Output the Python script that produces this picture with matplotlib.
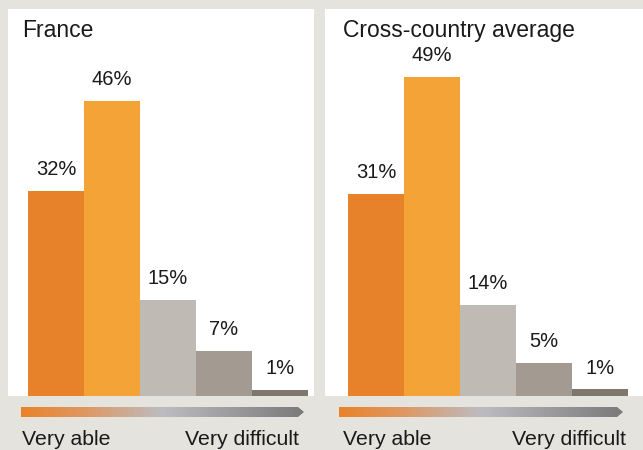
import numpy as np
import matplotlib
matplotlib.use("Agg")
import matplotlib.pyplot as plt
from matplotlib.colors import LinearSegmentedColormap
from matplotlib.path import Path
from matplotlib.patches import PathPatch

# Shares of respondents by ability level
levels = ["Very able", "Able", "Somewhat", "Difficult", "Very difficult"]
france = [32, 46, 15, 7, 1]
cross_country = [31, 49, 14, 5, 1]
panel_titles = ["France", "Cross-country average"]
scale_left = "Very able"
scale_right = "Very difficult"

bar_colors = ["#e8822a", "#f4a336", "#bfbab4", "#a39b92", "#7f776e"]
bg = "#e5e3de"
txt = "#1a1a1a"

W, H = 643, 450
fig = plt.figure(figsize=(W / 100, H / 100), dpi=100, facecolor=bg)
plt.rcParams["font.family"] = ["Liberation Sans", "DejaVu Sans"]


def px_rect(x0, y0, x1, y1):
    """Figure-fraction rectangle from pixel coords (origin top-left)."""
    return [x0 / W, 1 - y1 / H, (x1 - x0) / W, (y1 - y0) / H]


grad_cmap = LinearSegmentedColormap.from_list(
    "scale",
    [(0.0, "#e9832a"), (0.22, "#df9760"), (0.5, "#bcbcc2"), (1.0, "#7a7a7a")],
)

panels = [
    dict(data=france, title=panel_titles[0], box=(8, 9, 314, 396),
         bar0=28, top=60.4, arrow=(21, 304), lab=(22, 299)),
    dict(data=cross_country, title=panel_titles[1], box=(325, 9, 643, 396),
         bar0=348, top=59.4, arrow=(339, 623), lab=(343, 626)),
]

bw = 56  # bar width in pixels
for p in panels:
    x0, y0, x1, y1 = p["box"]
    ax = fig.add_axes(px_rect(x0, y0, x1, y1))
    ax.set_facecolor("white")
    left = -0.5 - (p["bar0"] - x0) / bw
    right = left + (x1 - x0) / bw
    ax.set_xlim(left, right)
    ax.set_ylim(0, p["top"])
    xs = np.arange(len(p["data"]))
    ax.bar(xs, p["data"], width=1.0, color=bar_colors, linewidth=0)
    for x, v in zip(xs, p["data"]):
        ax.annotate(f"{v}%", (x, v), xytext=(0, 11.5), textcoords="offset points",
                    ha="center", va="baseline", fontsize=14.5, color=txt)
    for s in ax.spines.values():
        s.set_visible(False)
    ax.set_xticks([])
    ax.set_yticks([])
    ax.text((p["lab"][0] - x0) / (x1 - x0), 1 - (37 - y0) / (y1 - y0), p["title"],
            transform=ax.transAxes, ha="left", va="baseline", fontsize=16.5, color=txt)

    # gradient arrow under the bars
    a0, a1 = p["arrow"]
    ay0, ay1 = 407, 417
    aax = fig.add_axes(px_rect(a0, ay0, a1, ay1))
    aax.set_xlim(a0, a1)
    aax.set_ylim(ay1, ay0)
    aax.axis("off")
    im = aax.imshow(np.linspace(0, 1, 256)[None, :], aspect="auto", cmap=grad_cmap,
                    extent=(a0, a1, ay1, ay0))
    tip = 6
    verts = [(a0, ay0), (a1 - tip, ay0), (a1, (ay0 + ay1) / 2), (a1 - tip, ay1),
             (a0, ay1), (a0, ay0)]
    clip = PathPatch(Path(verts, closed=True), transform=aax.transData,
                     facecolor="none", edgecolor="none")
    aax.add_patch(clip)
    im.set_clip_path(clip)

    fig.text(p["lab"][0] / W, 1 - 445 / H, scale_left, ha="left", va="baseline",
             fontsize=15.3, color=txt)
    fig.text(p["lab"][1] / W, 1 - 445 / H, scale_right, ha="right", va="baseline",
             fontsize=15.3, color=txt)

fig.savefig("out.png", dpi=100, facecolor=bg)
